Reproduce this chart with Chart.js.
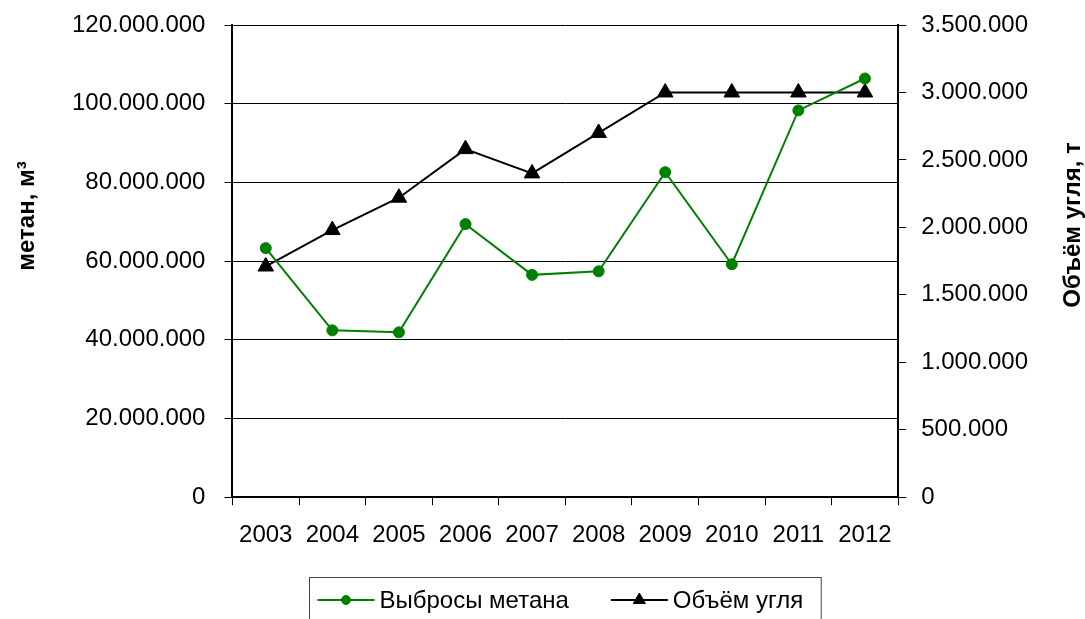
<!DOCTYPE html>
<html lang="ru">
<head>
<meta charset="utf-8">
<title>Выбросы метана и объём угля</title>
<script src="https://cdn.jsdelivr.net/npm/chart.js@4.4.1/dist/chart.umd.min.js"></script>
<style>
  html, body { margin: 0; padding: 0; background: #fff; }
  #wrap { width: 1085px; height: 619px; position: relative; }
</style>
</head>
<body>
<div id="wrap"><canvas id="metanChart"></canvas></div>
<script>
const years = ['2003', '2004', '2005', '2006', '2007', '2008', '2009', '2010', '2011', '2012'];
const vybrosyMetana = [63300000, 42400000, 41900000, 69400000, 56500000, 57400000, 82600000, 59200000, 98300000, 106400000];
const obemUglya = [1710000, 1980000, 2220000, 2580000, 2400000, 2700000, 3000000, 3000000, 3000000, 3000000];
const metanTicks = { min: 0, max: 120000000, step: 20000000 };
const uglyaTicks = { min: 0, max: 3500000, step: 500000 };

const FONT = 'Liberation Sans, Arial, sans-serif';
const GREEN = '#008000';

function formatNum(v) {
  return String(v).replace(/\B(?=(\d{3})+(?!\d))/g, '.');
}

// don't let the tick labels push the plot area down
function noVertPadding(scale) {
  scale.paddingTop = 0;
  scale.paddingBottom = 0;
}

// axis titles and the framed legend are drawn by hand
const extrasPlugin = {
  id: 'extras',
  afterDraw(chart) {
    const ctx = chart.ctx;
    const area = chart.chartArea;

    ctx.save();
    ctx.fillStyle = '#000';
    ctx.font = 'bold 24px ' + FONT;
    ctx.textAlign = 'center';
    ctx.textBaseline = 'middle';

    ctx.save();
    ctx.translate(27, 216);
    ctx.rotate(-Math.PI / 2);
    ctx.fillText('метан, м³', 0, 0);
    ctx.restore();

    ctx.save();
    ctx.translate(1073, 225);
    ctx.rotate(-Math.PI / 2);
    ctx.fillText('Объём угля, т', 0, 0);
    ctx.restore();

    // legend
    ctx.font = '24px ' + FONT;
    const legendRadius = { circle: 4.5, triangle: 7 };
    const items = chart.data.datasets.map(ds => ({
      text: ds.label,
      color: ds.borderColor,
      style: ds.pointStyle,
      width: ctx.measureText(ds.label).width
    }));
    const sample = 57, gapText = 5, gapItem = 42, padL = 8, padR = 18;
    let total = padL + padR + gapItem * (items.length - 1);
    items.forEach(it => { total += sample + gapText + it.width; });
    const boxLeft = Math.round((area.left + area.right) / 2 - total / 2) + 0.5;
    const boxTop = 577.5;
    const cy = 600;

    ctx.strokeStyle = '#444';
    ctx.lineWidth = 1;
    ctx.strokeRect(boxLeft, boxTop, total, 60);

    let x = boxLeft + padL;
    items.forEach(it => {
      ctx.strokeStyle = it.color;
      ctx.fillStyle = it.color;
      ctx.lineWidth = 2;
      ctx.beginPath();
      ctx.moveTo(x, cy);
      ctx.lineTo(x + sample, cy);
      ctx.stroke();
      ctx.lineWidth = 1;
      Chart.helpers.drawPoint(ctx, { pointStyle: it.style, radius: legendRadius[it.style], rotation: 0, borderWidth: 1 }, x + sample / 2, cy);
      ctx.fillStyle = '#000';
      ctx.textAlign = 'left';
      ctx.fillText(it.text, x + sample + gapText, cy + 1);
      x += sample + gapText + it.width + gapItem;
    });
    ctx.restore();
  }
};

function loadChart() {
  const ctx = document.getElementById('metanChart').getContext('2d');
  new Chart(ctx, {
    type: 'line',
    data: {
      labels: years,
      datasets: [
        {
          label: 'Выбросы метана',
          data: vybrosyMetana,
          yAxisID: 'y',
          borderColor: GREEN,
          backgroundColor: GREEN,
          borderWidth: 2,
          pointStyle: 'circle',
          pointRadius: 5.5,
          pointBorderWidth: 1,
          tension: 0
        },
        {
          label: 'Объём угля',
          data: obemUglya,
          yAxisID: 'y1',
          borderColor: '#000',
          backgroundColor: '#000',
          borderWidth: 2,
          pointStyle: 'triangle',
          pointRadius: 9,
          pointBorderWidth: 1,
          tension: 0
        }
      ]
    },
    options: {
      responsive: true,
      maintainAspectRatio: false,
      animation: false,
      layout: { padding: { left: 53, right: 42, top: 25, bottom: 53 } },
      plugins: {
        legend: { display: false },
        tooltip: { enabled: false }
      },
      scales: {
        x: {
          offset: true,
          grid: { offset: true, drawOnChartArea: false, drawTicks: true, tickLength: 8, color: '#000', lineWidth: 1 },
          border: { display: true, color: '#000', width: 2 },
          ticks: { color: '#000', padding: 16, font: { family: FONT, size: 24 }, maxRotation: 0 }
        },
        y: {
          position: 'left',
          min: metanTicks.min,
          max: metanTicks.max,
          afterFit: noVertPadding,
          grid: { color: '#000', lineWidth: 1, drawTicks: true, tickLength: 8, tickColor: '#000' },
          border: { display: true, color: '#000', width: 2 },
          ticks: {
            stepSize: metanTicks.step,
            color: '#000',
            padding: 19,
            font: { family: FONT, size: 24 },
            callback: v => formatNum(v)
          }
        },
        y1: {
          position: 'right',
          min: uglyaTicks.min,
          max: uglyaTicks.max,
          afterFit: noVertPadding,
          grid: { drawOnChartArea: false, drawTicks: true, tickLength: 8, color: '#000', tickColor: '#000' },
          border: { display: true, color: '#000', width: 2 },
          ticks: {
            stepSize: uglyaTicks.step,
            color: '#000',
            padding: 15,
            font: { family: FONT, size: 24 },
            callback: v => formatNum(v)
          }
        }
      }
    },
    plugins: [extrasPlugin]
  });
}

loadChart();
</script>
</body>
</html>
